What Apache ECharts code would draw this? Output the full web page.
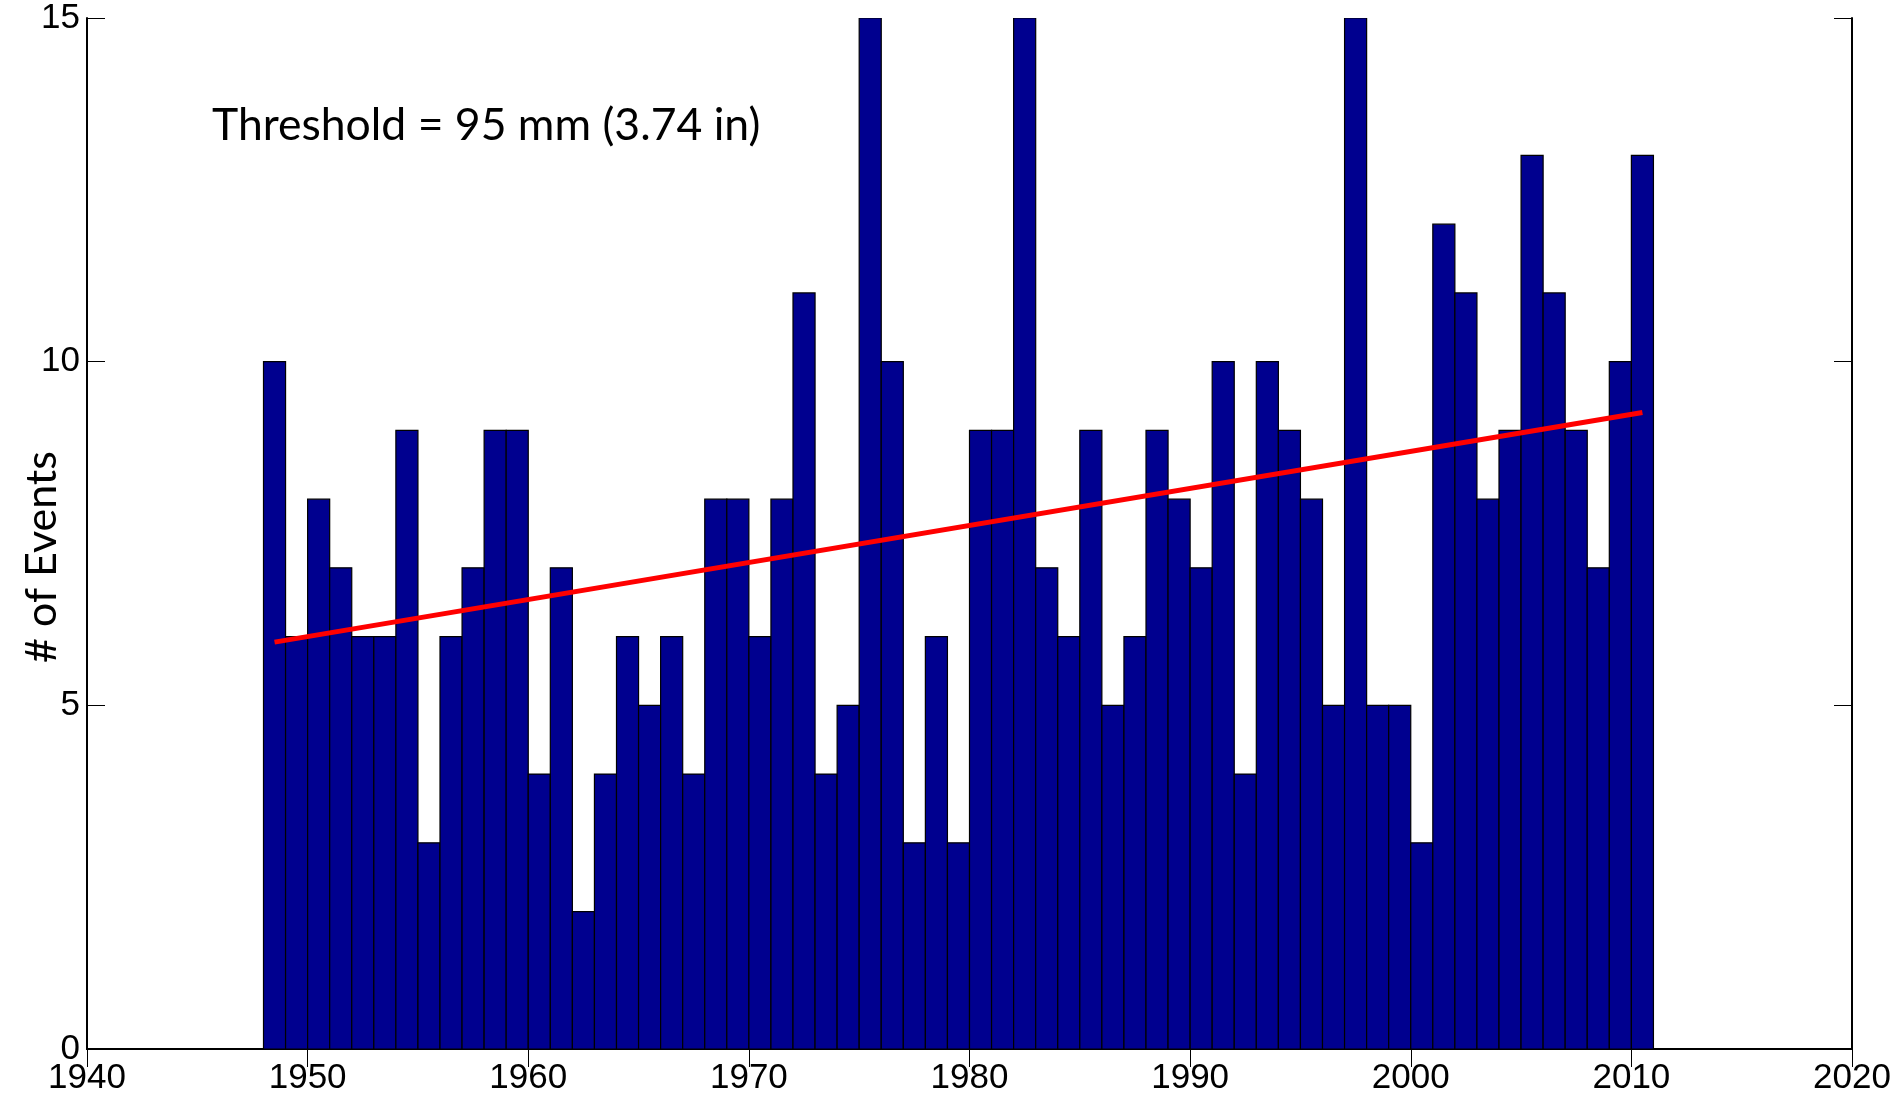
<!DOCTYPE html>
<html>
<head>
<meta charset="utf-8">
<style>
  html, body { margin: 0; padding: 0; background: #fff; }
  #chart { width: 1897px; height: 1099px; }
</style>
<script src="https://cdn.jsdelivr.net/npm/echarts@6/dist/echarts.min.js"></script>
</head>
<body>
<div id="chart"></div>
<script>
// Annual count of heavy-precipitation events, 1948–2010
const years = [
  1948, 1949, 1950, 1951, 1952, 1953, 1954, 1955, 1956, 1957,
  1958, 1959, 1960, 1961, 1962, 1963, 1964, 1965, 1966, 1967,
  1968, 1969, 1970, 1971, 1972, 1973, 1974, 1975, 1976, 1977,
  1978, 1979, 1980, 1981, 1982, 1983, 1984, 1985, 1986, 1987,
  1988, 1989, 1990, 1991, 1992, 1993, 1994, 1995, 1996, 1997,
  1998, 1999, 2000, 2001, 2002, 2003, 2004, 2005, 2006, 2007,
  2008, 2009, 2010
];
const eventCounts = [
  10, 6, 8, 7, 6, 6, 9, 3, 6, 7,
  9, 9, 4, 7, 2, 4, 6, 5, 6, 4,
  8, 8, 6, 8, 11, 4, 5, 15, 10, 3,
  6, 3, 9, 9, 15, 7, 6, 9, 5, 6,
  9, 8, 7, 10, 4, 10, 9, 8, 5, 15,
  5, 5, 3, 12, 11, 8, 9, 13, 11, 9,
  7, 10, 13
];
// Linear trend endpoints (year, events)
const trendYears = [1948.5, 2010.5];
const trendValues = [5.92, 9.26];

const xTicks = [1940, 2020, 10];
const yTicks = [0, 15, 5];
const thresholdText = 'Threshold = 95 mm (3.74 in)';
const yTitle = '# of Events';

const barData = years.map((y, i) => [y, eventCounts[i]]);
const trendData = trendYears.map((y, i) => [y, trendValues[i]]);

const chart = echarts.init(document.getElementById('chart'), null, { renderer: 'canvas' });

const tickFont = { fontFamily: 'Liberation Sans, Arial, sans-serif', fontSize: 35, color: '#000' };
const axisLine = { show: true, lineStyle: { color: '#000', width: 2 } };
const axisTick = { show: true, inside: true, length: 18, lineStyle: { color: '#000', width: 1 } };
const plainNumber = v => String(v);

chart.setOption({
  animation: false,
  backgroundColor: '#fff',
  grid: { left: 87, right: 45, top: 18, bottom: 50, containLabel: false, outerBoundsMode: 'none' },
  xAxis: [
    {
      type: 'value', min: xTicks[0], max: xTicks[1], interval: xTicks[2],
      position: 'bottom',
      axisLine, axisTick, splitLine: { show: false },
      axisLabel: Object.assign({ margin: 12, formatter: plainNumber }, tickFont)
    },
    {
      type: 'value', min: xTicks[0], max: xTicks[1], interval: xTicks[2],
      position: 'top',
      axisLine, axisTick, splitLine: { show: false },
      axisLabel: { show: false }
    }
  ],
  yAxis: [
    {
      type: 'value', min: yTicks[0], max: yTicks[1], interval: yTicks[2],
      position: 'left',
      axisLine, axisTick, splitLine: { show: false },
      axisLabel: Object.assign({ margin: 7, formatter: plainNumber }, tickFont)
    },
    {
      type: 'value', min: yTicks[0], max: yTicks[1], interval: yTicks[2],
      position: 'right',
      axisLine, axisTick, splitLine: { show: false },
      axisLabel: { show: false }
    }
  ],
  series: [
    {
      type: 'custom',
      name: 'Events',
      xAxisIndex: 0, yAxisIndex: 0,
      data: barData,
      clip: true,
      renderItem: function (params, api) {
        const year = api.value(0);
        const val = api.value(1);
        const p0 = api.coord([year, 0]);
        const p1 = api.coord([year + 1, val]);
        return {
          type: 'rect',
          shape: { x: p0[0], y: p1[1], width: p1[0] - p0[0], height: p0[1] - p1[1] },
          style: { fill: '#00008F', stroke: '#000', lineWidth: 1.2 }
        };
      },
      z: 2
    },
    {
      type: 'line',
      name: 'Trend',
      xAxisIndex: 0, yAxisIndex: 0,
      data: trendData,
      showSymbol: false,
      lineStyle: { color: '#FF0000', width: 5 },
      z: 3
    }
  ],
  graphic: [
    {
      type: 'text',
      left: 212, top: 103,
      style: {
        text: thresholdText,
        font: '44.5px Lato, "Open Sans", sans-serif',
        fill: '#000'
      },
      z: 10
    },
    {
      type: 'text',
      x: 42, y: 557,
      rotation: Math.PI / 2,
      style: {
        text: yTitle,
        font: '43px Lato, "Open Sans", sans-serif',
        fill: '#000',
        align: 'center',
        verticalAlign: 'middle'
      },
      z: 10
    }
  ]
});
</script>
</body>
</html>
